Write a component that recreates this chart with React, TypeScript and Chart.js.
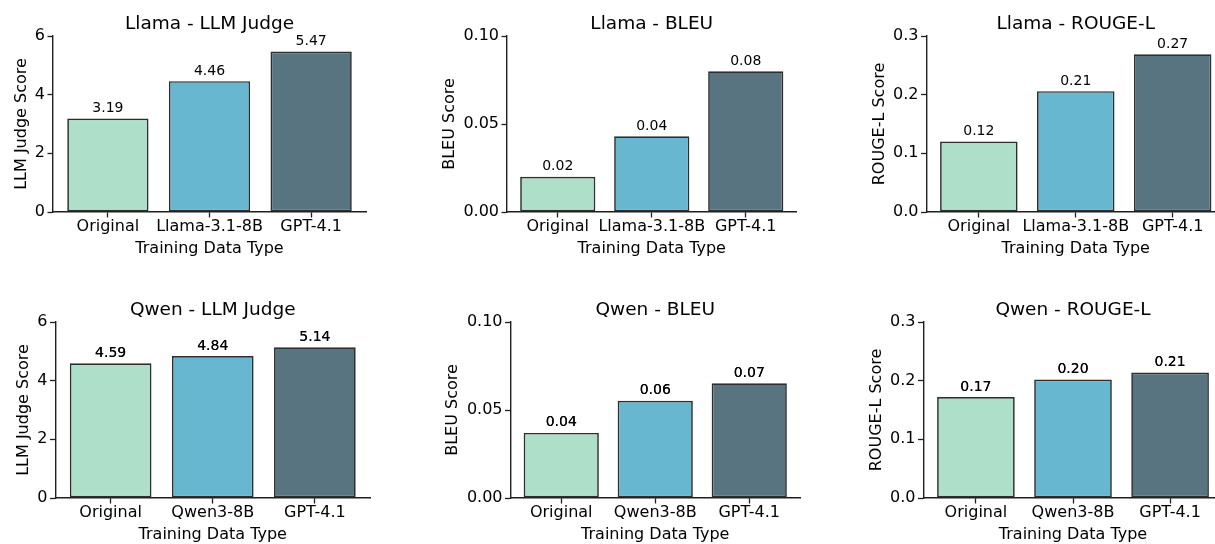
import React, { useEffect, useRef } from 'react';
import { Chart, registerables } from 'chart.js';

Chart.register(...registerables);

const FONT = '"DejaVu Sans", "Liberation Sans", sans-serif';

// ---- data ----
const llamaCategories = ['Original', 'Llama-3.1-8B', 'GPT-4.1'];
const qwenCategories = ['Original', 'Qwen3-8B', 'GPT-4.1'];

const llamaJudge = [3.19, 4.46, 5.47];
const llamaBleu = [0.02, 0.043, 0.08];
const llamaRouge = [0.12, 0.206, 0.269];
const qwenJudge = [4.59, 4.84, 5.14];
const qwenBleu = [0.037, 0.0552, 0.0652];
const qwenRouge = [0.172, 0.202, 0.214];

const judgeTicks = [0, 2, 4, 6];
const judgeTickLabels = ['0', '2', '4', '6'];
const bleuTicks = [0, 0.05, 0.1];
const bleuTickLabels = ['0.00', '0.05', '0.10'];
const rougeTicks = [0, 0.1, 0.2, 0.3];
const rougeTickLabels = ['0.0', '0.1', '0.2', '0.3'];

const barColors = ['#aedfc8', '#67b7d1', '#577480'];
const xTitle = 'Training Data Type';

// ---- layout (page coordinates) ----
type Panel = {
  title: string;
  ylabel: string;
  cats: string[];
  values: number[];
  ticks: number[];
  tickLabels: string[];
  box: [number, number, number, number]; // left, top, width, height
  area: [number, number, number, number]; // left, right, top, bottom
  ylabOff: number;
  bold: boolean;
};

const panels: Panel[] = [
  { title: 'Llama - LLM Judge', ylabel: 'LLM Judge Score', cats: llamaCategories, values: llamaJudge, ticks: judgeTicks, tickLabels: judgeTickLabels, box: [0, 0, 405, 272], area: [53, 366, 36, 212], ylabOff: 27.5, bold: false },
  { title: 'Llama - BLEU', ylabel: 'BLEU Score', cats: llamaCategories, values: llamaBleu, ticks: bleuTicks, tickLabels: bleuTickLabels, box: [405, 0, 405, 272], area: [507, 796.5, 36, 212], ylabOff: 53.5, bold: false },
  { title: 'Llama - ROUGE-L', ylabel: 'ROUGE-L Score', cats: llamaCategories, values: llamaRouge, ticks: rougeTicks, tickLabels: rougeTickLabels, box: [810, 0, 430, 272], area: [926.5, 1225, 36, 212], ylabOff: 43, bold: false },
  { title: 'Qwen - LLM Judge', ylabel: 'LLM Judge Score', cats: qwenCategories, values: qwenJudge, ticks: judgeTicks, tickLabels: judgeTickLabels, box: [0, 272, 405, 272], area: [55.5, 370, 322, 498], ylabOff: 27.5, bold: true },
  { title: 'Qwen - BLEU', ylabel: 'BLEU Score', cats: qwenCategories, values: qwenBleu, ticks: bleuTicks, tickLabels: bleuTickLabels, box: [405, 272, 405, 272], area: [510.5, 800, 322, 498], ylabOff: 53.5, bold: true },
  { title: 'Qwen - ROUGE-L', ylabel: 'ROUGE-L Score', cats: qwenCategories, values: qwenRouge, ticks: rougeTicks, tickLabels: rougeTickLabels, box: [810, 272, 430, 272], area: [923.5, 1222.5, 322, 498], ylabOff: 43, bold: true },
];

const YW = 45;
const XH = 35;
const AXIS_COLOR = '#1f1f1f';

function PanelChart({ p }: { p: Panel }) {
  const ref = useRef<HTMLCanvasElement | null>(null);

  useEffect(() => {
    if (!ref.current) return;
    const [bl, bt, bw, bh] = p.box;
    const [al, ar, at, ab] = p.area;
    const padding = {
      left: al - bl - YW,
      right: bl + bw - ar,
      top: at - bt,
      bottom: bt + bh - ab - XH,
    };

    const labelsPlugin = {
      id: 'panelText',
      afterDraw(chart: any) {
        const ctx = chart.ctx as CanvasRenderingContext2D;
        const a = chart.chartArea;
        ctx.save();
        ctx.fillStyle = '#000';
        ctx.textBaseline = 'alphabetic';
        ctx.textAlign = 'center';
        // title
        ctx.font = `18.5px ${FONT}`;
        ctx.fillText(p.title, (a.left + a.right) / 2, a.top - 7);
        // x title
        ctx.font = `16px ${FONT}`;
        ctx.fillText(xTitle, (a.left + a.right) / 2, a.bottom + 41);
        // y title
        ctx.save();
        ctx.translate(a.left - p.ylabOff, (a.top + a.bottom) / 2);
        ctx.rotate(-Math.PI / 2);
        ctx.fillText(p.ylabel, 0, 0);
        ctx.restore();
        // value labels
        ctx.font = `14px ${FONT}`;
        const meta = chart.getDatasetMeta(0);
        meta.data.forEach((bar: any, i: number) => {
          const txt = p.values[i].toFixed(2);
          ctx.fillText(txt, bar.x, bar.y - 6.5);
          if (p.bold) ctx.fillText(txt, bar.x, bar.y - 6.5);
        });
        ctx.restore();
      },
    };

    const chart = new Chart(ref.current, {
      type: 'bar',
      data: {
        datasets: [
          {
            data: p.values.map((v, i) => ({ x: i, y: v })),
            backgroundColor: barColors,
            borderColor: '#2e2e2e',
            borderWidth: 1.7,
            borderSkipped: false,
            categoryPercentage: 1,
            barPercentage: 0.8,
          } as any,
        ],
      },
      options: {
        responsive: false,
        animation: false,
        devicePixelRatio: 1,
        layout: { padding },
        plugins: {
          legend: { display: false },
          title: { display: false },
          tooltip: { enabled: false },
        },
        scales: {
          x: {
            type: 'linear',
            min: -0.54,
            max: 2.54,
            offset: false,
            afterBuildTicks: (scale: any) => {
              scale.ticks = p.cats.map((_, i) => ({ value: i }));
            },
            afterFit: (scale: any) => {
              scale.height = XH;
            },
            ticks: {
              autoSkip: false,
              maxRotation: 0,
              minRotation: 0,
              padding: 0,
              color: '#000',
              font: { family: FONT, size: 16 },
              callback: (_v: any, i: number) => p.cats[i],
            },
            grid: {
              display: true,
              offset: false,
              drawOnChartArea: false,
              drawTicks: true,
              tickLength: 5.5,
              tickWidth: 1.3,
              tickColor: AXIS_COLOR,
            },
            border: { display: true, color: AXIS_COLOR, width: 1.4 },
          },
          y: {
            type: 'linear',
            min: p.ticks[0],
            max: p.ticks[p.ticks.length - 1],
            afterBuildTicks: (scale: any) => {
              scale.ticks = p.ticks.map((v) => ({ value: v }));
            },
            afterFit: (scale: any) => {
              scale.width = YW;
            },
            ticks: {
              padding: 2.5,
              color: '#000',
              font: { family: FONT, size: 16 },
              callback: (_v: any, i: number) => p.tickLabels[i],
            },
            grid: {
              display: true,
              drawOnChartArea: false,
              drawTicks: true,
              tickLength: 5.5,
              tickWidth: 1.3,
              tickColor: AXIS_COLOR,
            },
            border: { display: true, color: AXIS_COLOR, width: 1.4 },
          },
        },
      } as any,
      plugins: [labelsPlugin],
    });

    return () => chart.destroy();
  }, [p]);

  return (
    <canvas
      ref={ref}
      width={p.box[2]}
      height={p.box[3]}
      style={{ position: 'absolute', left: p.box[0], top: p.box[1], width: p.box[2], height: p.box[3] }}
    />
  );
}

export default function App() {
  return (
    <div
      style={{
        position: 'absolute',
        left: 0,
        top: 0,
        width: 1215,
        height: 544,
        overflow: 'hidden',
        background: '#fff',
      }}
    >
      {panels.map((p, i) => (
        <PanelChart key={i} p={p} />
      ))}
    </div>
  );
}
